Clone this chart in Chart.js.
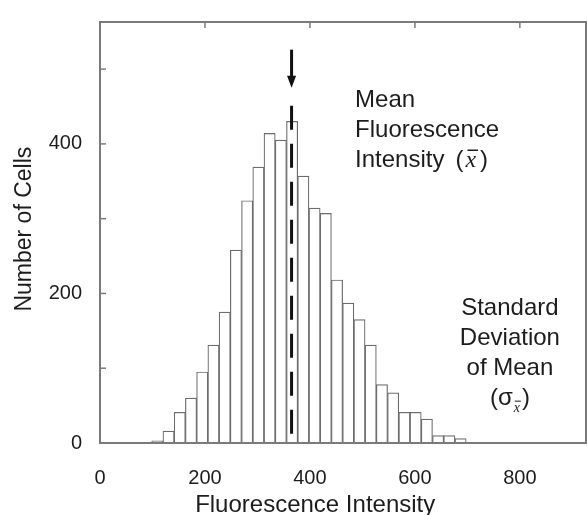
<!DOCTYPE html>
<html>
<head>
<meta charset="utf-8">
<script src="https://cdn.jsdelivr.net/npm/chart.js@4.4.1/dist/chart.umd.min.js"></script>
<style>
  html, body { margin: 0; padding: 0; background: #fff; }
  #wrap { width: 587px; height: 515px; }
</style>
</head>
<body>
<div id="wrap"><canvas id="histChart"></canvas></div>
<script>
// histogram bins (centre of each intensity bin) and the cell count in each
const binCenters = [109.2, 130.6, 152.0, 173.4, 194.8, 216.2, 237.6, 259.0, 280.4, 301.8,
                    323.2, 344.6, 366.0, 387.4, 408.8, 430.2, 451.6, 473.0, 494.4, 515.8,
                    537.2, 558.6, 580.0, 601.4, 622.8, 644.2, 665.6, 687.0];
const cellCounts = [3, 16, 41, 60, 95, 131, 175, 258, 324, 369,
                    414, 405, 430, 357, 314, 307, 218, 187, 165, 131,
                    78, 67, 41, 41, 32, 10, 10, 6];
const xTickValues = [0, 200, 400, 600, 800];
const yTickValues = [0, 100, 200, 300, 400, 500];
const yLabelValues = [0, 200, 400];
const meanIntensity = 365;

const FONT = '"Liberation Sans", Arial, sans-serif';
const SERIF = '"Liberation Serif", "Times New Roman", serif';
const INK = '#1c1c1c';

function line(ctx, x0, y0, x1, y1) {
  ctx.beginPath();
  ctx.moveTo(x0, y0);
  ctx.lineTo(x1, y1);
  ctx.stroke();
}

// frame, inward ticks, mean marker and the text notes
const overlay = {
  id: 'overlay',
  afterDraw(chart) {
    const { ctx, chartArea: a, scales: { x, y } } = chart;
    ctx.save();

    ctx.strokeStyle = '#7a7a7a';
    ctx.lineWidth = 2;
    ctx.strokeRect(a.left, a.top, a.right - a.left, a.bottom - a.top);
    ctx.lineWidth = 1.5;
    yTickValues.forEach(v => {
      if (v === 0) return;
      const py = y.getPixelForValue(v);
      line(ctx, a.left, py, a.left + 6, py);
    });
    xTickValues.forEach(v => {
      if (v === 0) return;
      const px = x.getPixelForValue(v);
      line(ctx, px, a.top, px, a.top + 6);
    });

    // dashed mean line + arrow
    const mx = x.getPixelForValue(meanIntensity);
    ctx.strokeStyle = '#111';
    ctx.fillStyle = '#111';
    ctx.lineWidth = 3;
    ctx.setLineDash([24, 14]);
    line(ctx, mx, y.getPixelForValue(451), mx, a.bottom);
    ctx.setLineDash([]);
    const ay0 = y.getPixelForValue(526), ay1 = y.getPixelForValue(475);
    line(ctx, mx, ay0, mx, ay1 - 10);
    ctx.beginPath();
    ctx.moveTo(mx - 4.5, ay1 - 12);
    ctx.lineTo(mx + 4.5, ay1 - 12);
    ctx.lineTo(mx, ay1);
    ctx.closePath();
    ctx.fill();

    ctx.fillStyle = INK;
    ctx.strokeStyle = INK;
    ctx.textBaseline = 'alphabetic';

    // Mean Fluorescence Intensity (x̄)
    const tx = x.getPixelForValue(486), ty = y.getPixelForValue(449);
    ctx.font = '24px ' + FONT;
    ctx.textAlign = 'left';
    ctx.fillText('Mean', tx, ty);
    ctx.fillText('Fluorescence', tx, ty + 30);
    ctx.fillText('Intensity', tx, ty + 60);
    let cx = tx + ctx.measureText('Intensity').width + 11;
    ctx.fillText('(', cx, ty + 60);
    cx += ctx.measureText('(').width + 2;
    ctx.font = 'italic 24px ' + SERIF;
    ctx.fillText('x', cx, ty + 60);
    const xw = ctx.measureText('x').width;
    ctx.lineWidth = 1.5;
    line(ctx, cx + 2, ty + 60 - 17, cx + xw + 2, ty + 60 - 17);
    cx += xw + 4;
    ctx.font = '24px ' + FONT;
    ctx.fillText(')', cx, ty + 60);

    // Standard Deviation of Mean (σx̄)
    const sx = x.getPixelForValue(781), sy = y.getPixelForValue(171);
    ctx.textAlign = 'center';
    ctx.fillText('Standard', sx, sy);
    ctx.fillText('Deviation', sx, sy + 30);
    ctx.fillText('of Mean', sx, sy + 60);
    ctx.textAlign = 'left';
    const wOpen = ctx.measureText('(').width;
    const wSig = ctx.measureText('σ').width;
    ctx.font = 'italic 14px ' + SERIF;
    const wSub = ctx.measureText('x').width;
    ctx.font = '24px ' + FONT;
    const wClose = ctx.measureText(')').width;
    let px = sx - (wOpen + wSig + wSub + wClose + 3) / 2;
    const py = sy + 90;
    ctx.fillText('(', px, py); px += wOpen;
    ctx.fillText('σ', px, py); px += wSig + 1;
    ctx.font = 'italic 14px ' + SERIF;
    ctx.fillText('x', px, py + 7);
    ctx.lineWidth = 1;
    line(ctx, px + 1, py - 4, px + wSub + 1, py - 4);
    px += wSub + 2;
    ctx.font = '24px ' + FONT;
    ctx.fillText(')', px, py);

    // axis titles
    ctx.font = '24px ' + FONT;
    ctx.textAlign = 'center';
    ctx.fillText('Fluorescence Intensity', x.getPixelForValue(410), a.bottom + 69);
    ctx.translate(31, y.getPixelForValue(286));
    ctx.rotate(-Math.PI / 2);
    ctx.font = '23px ' + FONT;
    ctx.fillText('Number of Cells', 0, 0);

    ctx.restore();
  }
};

new Chart(document.getElementById('histChart'), {
  type: 'bar',
  data: {
    datasets: [{
      data: binCenters.map((c, i) => ({ x: c, y: cellCounts[i] })),
      backgroundColor: '#ffffff',
      borderColor: '#6c6c6c',
      borderWidth: 1.2,
      borderSkipped: 'start',
      barPercentage: 1,
      categoryPercentage: 1
    }]
  },
  options: {
    responsive: true,
    maintainAspectRatio: false,
    animation: false,
    layout: { padding: { top: 15, right: 1, left: 0, bottom: 0 } },
    plugins: { legend: { display: false }, tooltip: { enabled: false } },
    scales: {
      x: {
        type: 'linear',
        offset: false,
        min: 0,
        max: 926,
        afterBuildTicks: s => { s.ticks = xTickValues.map(v => ({ value: v })); },
        afterFit: s => { s.height = 72; },
        grid: { display: false },
        border: { display: false },
        ticks: { padding: 15, color: INK, font: { family: FONT, size: 20 } }
      },
      y: {
        min: 0,
        max: 563,
        afterBuildTicks: s => { s.ticks = yTickValues.map(v => ({ value: v })); },
        afterFit: s => { s.width = 100; },
        grid: { display: false },
        border: { display: false },
        ticks: {
          padding: 10,
          color: INK,
          font: { family: FONT, size: 20 },
          callback: v => yLabelValues.includes(v) ? String(v) : ''
        }
      }
    }
  },
  plugins: [overlay]
});
</script>
</body>
</html>
